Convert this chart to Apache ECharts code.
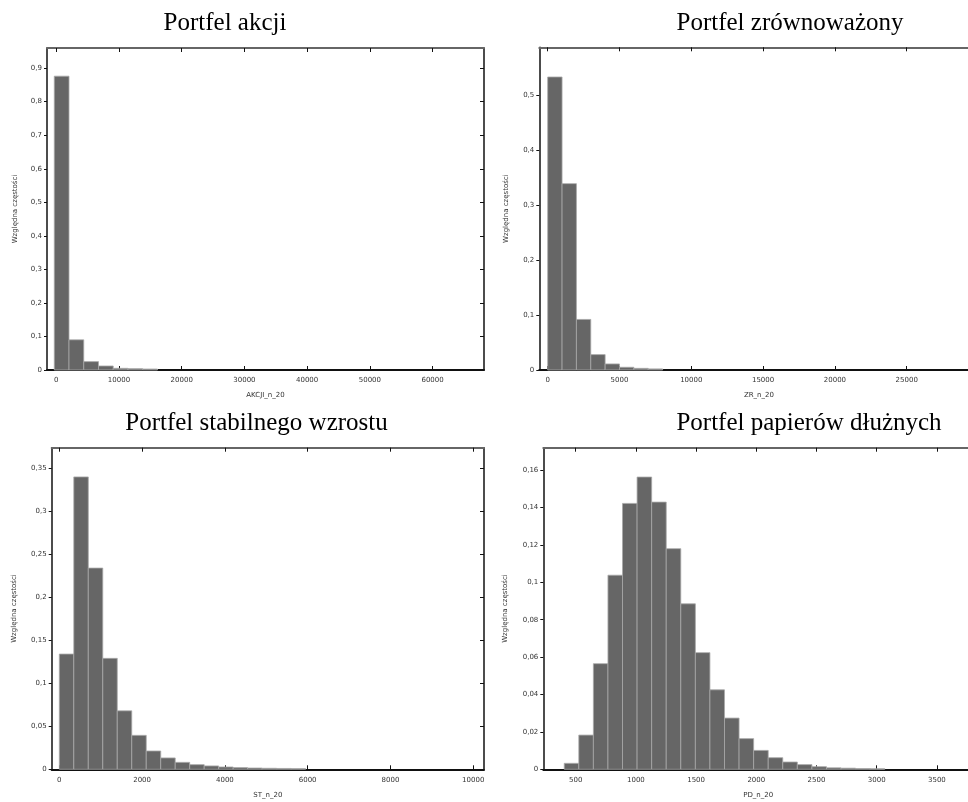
<!DOCTYPE html>
<html>
<head>
<meta charset="utf-8">
<script src="https://cdn.jsdelivr.net/npm/echarts@6/dist/echarts.min.js"></script>
<style>
  html, body { margin: 0; padding: 0; background: #fff; overflow: hidden; }
  /* wider than the window: the right-hand panels run off the edge, as in the source */
  #chart { width: 990px; height: 802px; }
</style>
</head>
<body>
<div id="chart"></div>
<script>
// Portfel akcji
const akcjiBinStart = -320;
const akcjiBinWidth = 2350;
const akcjiFreq = [0.876, 0.09, 0.025, 0.012, 0.005, 0.004, 0.003];
const akcjiXTicks = [0, 10000, 20000, 30000, 40000, 50000, 60000];
const akcjiYTicks = [0, 0.1, 0.2, 0.3, 0.4, 0.5, 0.6, 0.7, 0.8, 0.9];

// Portfel zrównoważony
const zrBinStart = 0;
const zrBinWidth = 1000;
const zrFreq = [0.533, 0.339, 0.092, 0.028, 0.011, 0.005, 0.003, 0.002];
const zrXTicks = [0, 5000, 10000, 15000, 20000, 25000];
const zrYTicks = [0, 0.1, 0.2, 0.3, 0.4, 0.5];

// Portfel stabilnego wzrostu
const stBinStart = 0;
const stBinWidth = 350;
const stFreq = [0.134, 0.34, 0.234, 0.129, 0.068, 0.0395, 0.0213, 0.0132, 0.0081,
  0.0054, 0.0039, 0.0027, 0.002, 0.0015, 0.0012, 0.001, 0.0008];
const stXTicks = [0, 2000, 4000, 6000, 8000, 10000];
const stYTicks = [0, 0.05, 0.1, 0.15, 0.2, 0.25, 0.3, 0.35];

// Portfel papierów dłużnych
const pdBinStart = 405;
const pdBinWidth = 121;
const pdFreq = [0.0032, 0.0183, 0.0565, 0.1038, 0.1422, 0.1563, 0.1429, 0.118, 0.0885,
  0.0624, 0.0425, 0.0274, 0.0164, 0.0101, 0.0062, 0.0039, 0.0025, 0.0014,
  0.0008, 0.0006, 0.0004, 0.0003];
const pdXTicks = [500, 1000, 1500, 2000, 2500, 3000, 3500];
const pdYTicks = [0, 0.02, 0.04, 0.06, 0.08, 0.1, 0.12, 0.14, 0.16];

const titles = ['Portfel akcji', 'Portfel zrównoważony', 'Portfel stabilnego wzrostu', 'Portfel papierów dłużnych'];
const xNames = ['AKCJI_n_20', 'ZR_n_20', 'ST_n_20', 'PD_n_20'];
const yName = 'Względna częstości';

const W = 990;
const panels = [
  { start: akcjiBinStart, width: akcjiBinWidth, freq: akcjiFreq, xt: akcjiXTicks, yt: akcjiYTicks,
    xMin: -1480, xMax: 68200, yMax: 0.96,
    grid: { left: 47, right: W - 484, top: 48, bottom: 432 }, titleX: 225, titleY: 11, yGap: 28 },
  { start: zrBinStart, width: zrBinWidth, freq: zrFreq, xt: zrXTicks, yt: zrYTicks,
    xMin: -585, xMax: 30000, yMax: 0.587,
    grid: { left: 539.3, right: W - 978.5, top: 47.3, bottom: 432 }, titleX: 790, titleY: 11, yGap: 30 },
  { start: stBinStart, width: stBinWidth, freq: stFreq, xt: stXTicks, yt: stYTicks,
    xMin: -184, xMax: 10260, yMax: 0.374,
    grid: { left: 51.7, right: W - 484, top: 447.7, bottom: 32.7 }, titleX: 256.5, titleY: 411, yGap: 34 },
  { start: pdBinStart, width: pdBinWidth, freq: pdFreq, xt: pdXTicks, yt: pdYTicks,
    xMin: 231, xMax: 3800, yMax: 0.172,
    grid: { left: 543.3, right: W - 973, top: 447.7, bottom: 32.7 }, titleX: 809, titleY: 411, yGap: 35 }
];

const fmt = v => String(v).replace('.', ',');
const smallFont = { fontSize: 7, color: '#333', fontFamily: 'DejaVu Sans' };

const toBins = (start, width, freq) => freq.map((f, i) => [start + i * width, start + (i + 1) * width, f]);

const renderBar = (params, api) => {
  const p0 = api.coord([api.value(0), api.value(2)]);
  const p1 = api.coord([api.value(1), 0]);
  return {
    type: 'rect',
    shape: { x: p0[0], y: p0[1], width: p1[0] - p0[0], height: p1[1] - p0[1] },
    style: { fill: '#666666', stroke: '#a8a8a8', lineWidth: 0.8 }
  };
};

const option = { animation: false, title: [], grid: [], xAxis: [], yAxis: [], series: [] };

panels.forEach((p, i) => {
  option.title.push({
    text: titles[i], left: p.titleX, top: p.titleY, padding: 0,
    textAlign: 'center', textVerticalAlign: 'top',
    textStyle: { fontFamily: 'Liberation Serif', fontSize: 25, fontWeight: 'normal', color: '#000' }
  });
  option.grid.push(Object.assign({ containLabel: false }, p.grid));

  option.xAxis.push({
    type: 'value', gridIndex: i, position: 'bottom', min: p.xMin, max: p.xMax,
    name: xNames[i], nameLocation: 'middle', nameGap: 22, nameTextStyle: smallFont,
    axisLine: { show: true, onZero: false, lineStyle: { color: '#111', width: 2 } },
    axisTick: { show: true, inside: true, length: 4, customValues: p.xt, lineStyle: { color: '#111' } },
    axisLabel: Object.assign({ customValues: p.xt, formatter: fmt, margin: 7 }, smallFont),
    splitLine: { show: false }
  });
  option.xAxis.push({
    type: 'value', gridIndex: i, position: 'top', min: p.xMin, max: p.xMax,
    axisLine: { show: true, onZero: false, lineStyle: { color: '#666', width: 2 } },
    axisTick: { show: true, inside: true, length: 4, customValues: p.xt, lineStyle: { color: '#111' } },
    axisLabel: { show: false },
    splitLine: { show: false }
  });

  option.yAxis.push({
    type: 'value', gridIndex: i, position: 'left', min: 0, max: p.yMax,
    name: yName, nameLocation: 'middle', nameGap: p.yGap, nameTextStyle: smallFont,
    axisLine: { show: true, onZero: false, lineStyle: { color: '#111', width: 1.5 } },
    axisTick: { show: true, inside: false, length: 3, customValues: p.yt, lineStyle: { color: '#111' } },
    axisLabel: Object.assign({ customValues: p.yt, formatter: fmt, margin: 5 }, smallFont),
    splitLine: { show: false }
  });
  option.yAxis.push({
    type: 'value', gridIndex: i, position: 'right', min: 0, max: p.yMax,
    axisLine: { show: true, onZero: false, lineStyle: { color: '#111', width: 1.5 } },
    axisTick: { show: true, inside: true, length: 4, customValues: p.yt, lineStyle: { color: '#111' } },
    axisLabel: { show: false },
    splitLine: { show: false }
  });

  option.series.push({
    type: 'custom', xAxisIndex: 2 * i, yAxisIndex: 2 * i,
    encode: { x: [0, 1], y: 2 },
    renderItem: renderBar,
    data: toBins(p.start, p.width, p.freq)
  });
});

const chart = echarts.init(document.getElementById('chart'));
chart.setOption(option);
</script>
</body>
</html>
